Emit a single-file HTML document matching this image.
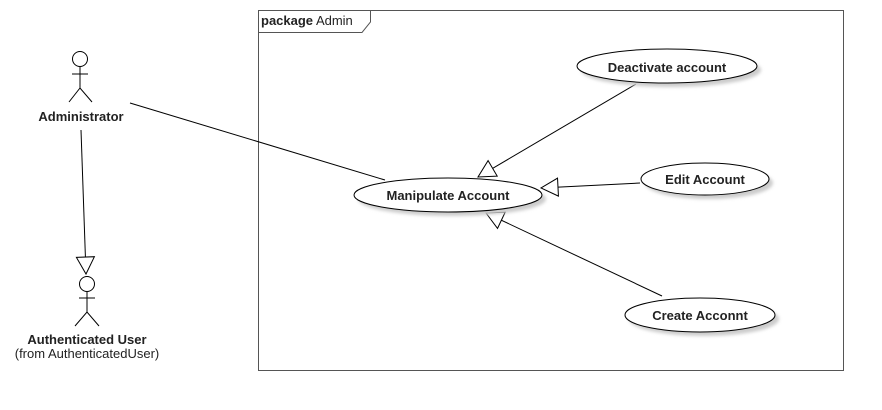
<!DOCTYPE html>
<html><head><style>
html,body{margin:0;padding:0;background:#fff;width:882px;height:410px;overflow:hidden}
text{font-family:"Liberation Sans",Arial,sans-serif;font-size:13px;fill:#222}
.b{font-weight:bold}
</style></head><body>
<svg width="882" height="410" viewBox="0 0 882 410" xmlns="http://www.w3.org/2000/svg">
<defs>
<marker id="g" markerUnits="userSpaceOnUse" markerWidth="22" markerHeight="22" refX="18" refY="10" orient="auto" viewBox="0 0 22 22">
<path d="M1,1 L18,10 L1,19 Z" fill="#fff" stroke="#000" stroke-width="1"/>
</marker>
<filter id="sh" x="-10%" y="-20%" width="130%" height="150%"><feGaussianBlur stdDeviation="1.5"/></filter>
</defs>
<rect x="258.5" y="10.5" width="585" height="360" fill="none" stroke="#555" stroke-width="1"/>
<path d="M258.5,32.5 H362 L370.5,22 V10.5" fill="none" stroke="#555"/>
<text x="261" y="25"><tspan class="b">package</tspan> Admin</text>
<line x1="130" y1="103" x2="385" y2="180" stroke="#000"/>
<line x1="81" y1="130" x2="86" y2="274" stroke="#000" marker-end="url(#g)"/>
<line x1="636" y1="84" x2="478" y2="177" stroke="#000" marker-end="url(#g)"/>
<line x1="640" y1="183" x2="541" y2="188" stroke="#000" marker-end="url(#g)"/>
<line x1="662" y1="296" x2="486" y2="213" stroke="#000" marker-end="url(#g)"/>
<g>
<ellipse cx="452" cy="199" rx="94" ry="17" fill="#ccc" filter="url(#sh)"/>
<ellipse cx="448" cy="195" rx="94" ry="17" fill="#fff" stroke="#000"/>
<text x="448" y="200" text-anchor="middle" class="b">Manipulate Account</text>
<ellipse cx="671" cy="70" rx="90" ry="17" fill="#ccc" filter="url(#sh)"/>
<ellipse cx="667" cy="66" rx="90" ry="17" fill="#fff" stroke="#000"/>
<text x="667" y="72" text-anchor="middle" class="b">Deactivate account</text>
<ellipse cx="709" cy="183" rx="64" ry="16" fill="#ccc" filter="url(#sh)"/>
<ellipse cx="705" cy="179" rx="64" ry="16" fill="#fff" stroke="#000"/>
<text x="705" y="184" text-anchor="middle" class="b">Edit Account</text>
<ellipse cx="704" cy="319" rx="75" ry="17" fill="#ccc" filter="url(#sh)"/>
<ellipse cx="700" cy="315" rx="75" ry="17" fill="#fff" stroke="#000"/>
<text x="700" y="320" text-anchor="middle" class="b">Create Acconnt</text>
</g>
<g fill="#fff" stroke="#000">
<circle cx="80" cy="59" r="7.5"/>
<line x1="80" y1="67" x2="80" y2="88"/>
<line x1="72" y1="74" x2="88" y2="74"/>
<polyline points="69,102 80,88 92,102" fill="none"/>
<circle cx="87" cy="284" r="7.5"/>
<line x1="87" y1="292" x2="87" y2="312"/>
<line x1="79" y1="298" x2="95" y2="298"/>
<polyline points="75,326 87,312 99,326" fill="none"/>
</g>
<text x="81" y="121" text-anchor="middle" class="b">Administrator</text>
<text x="87" y="344" text-anchor="middle" class="b">Authenticated User</text>
<text x="87" y="358" text-anchor="middle">(from AuthenticatedUser)</text>
</svg>
</body></html>
